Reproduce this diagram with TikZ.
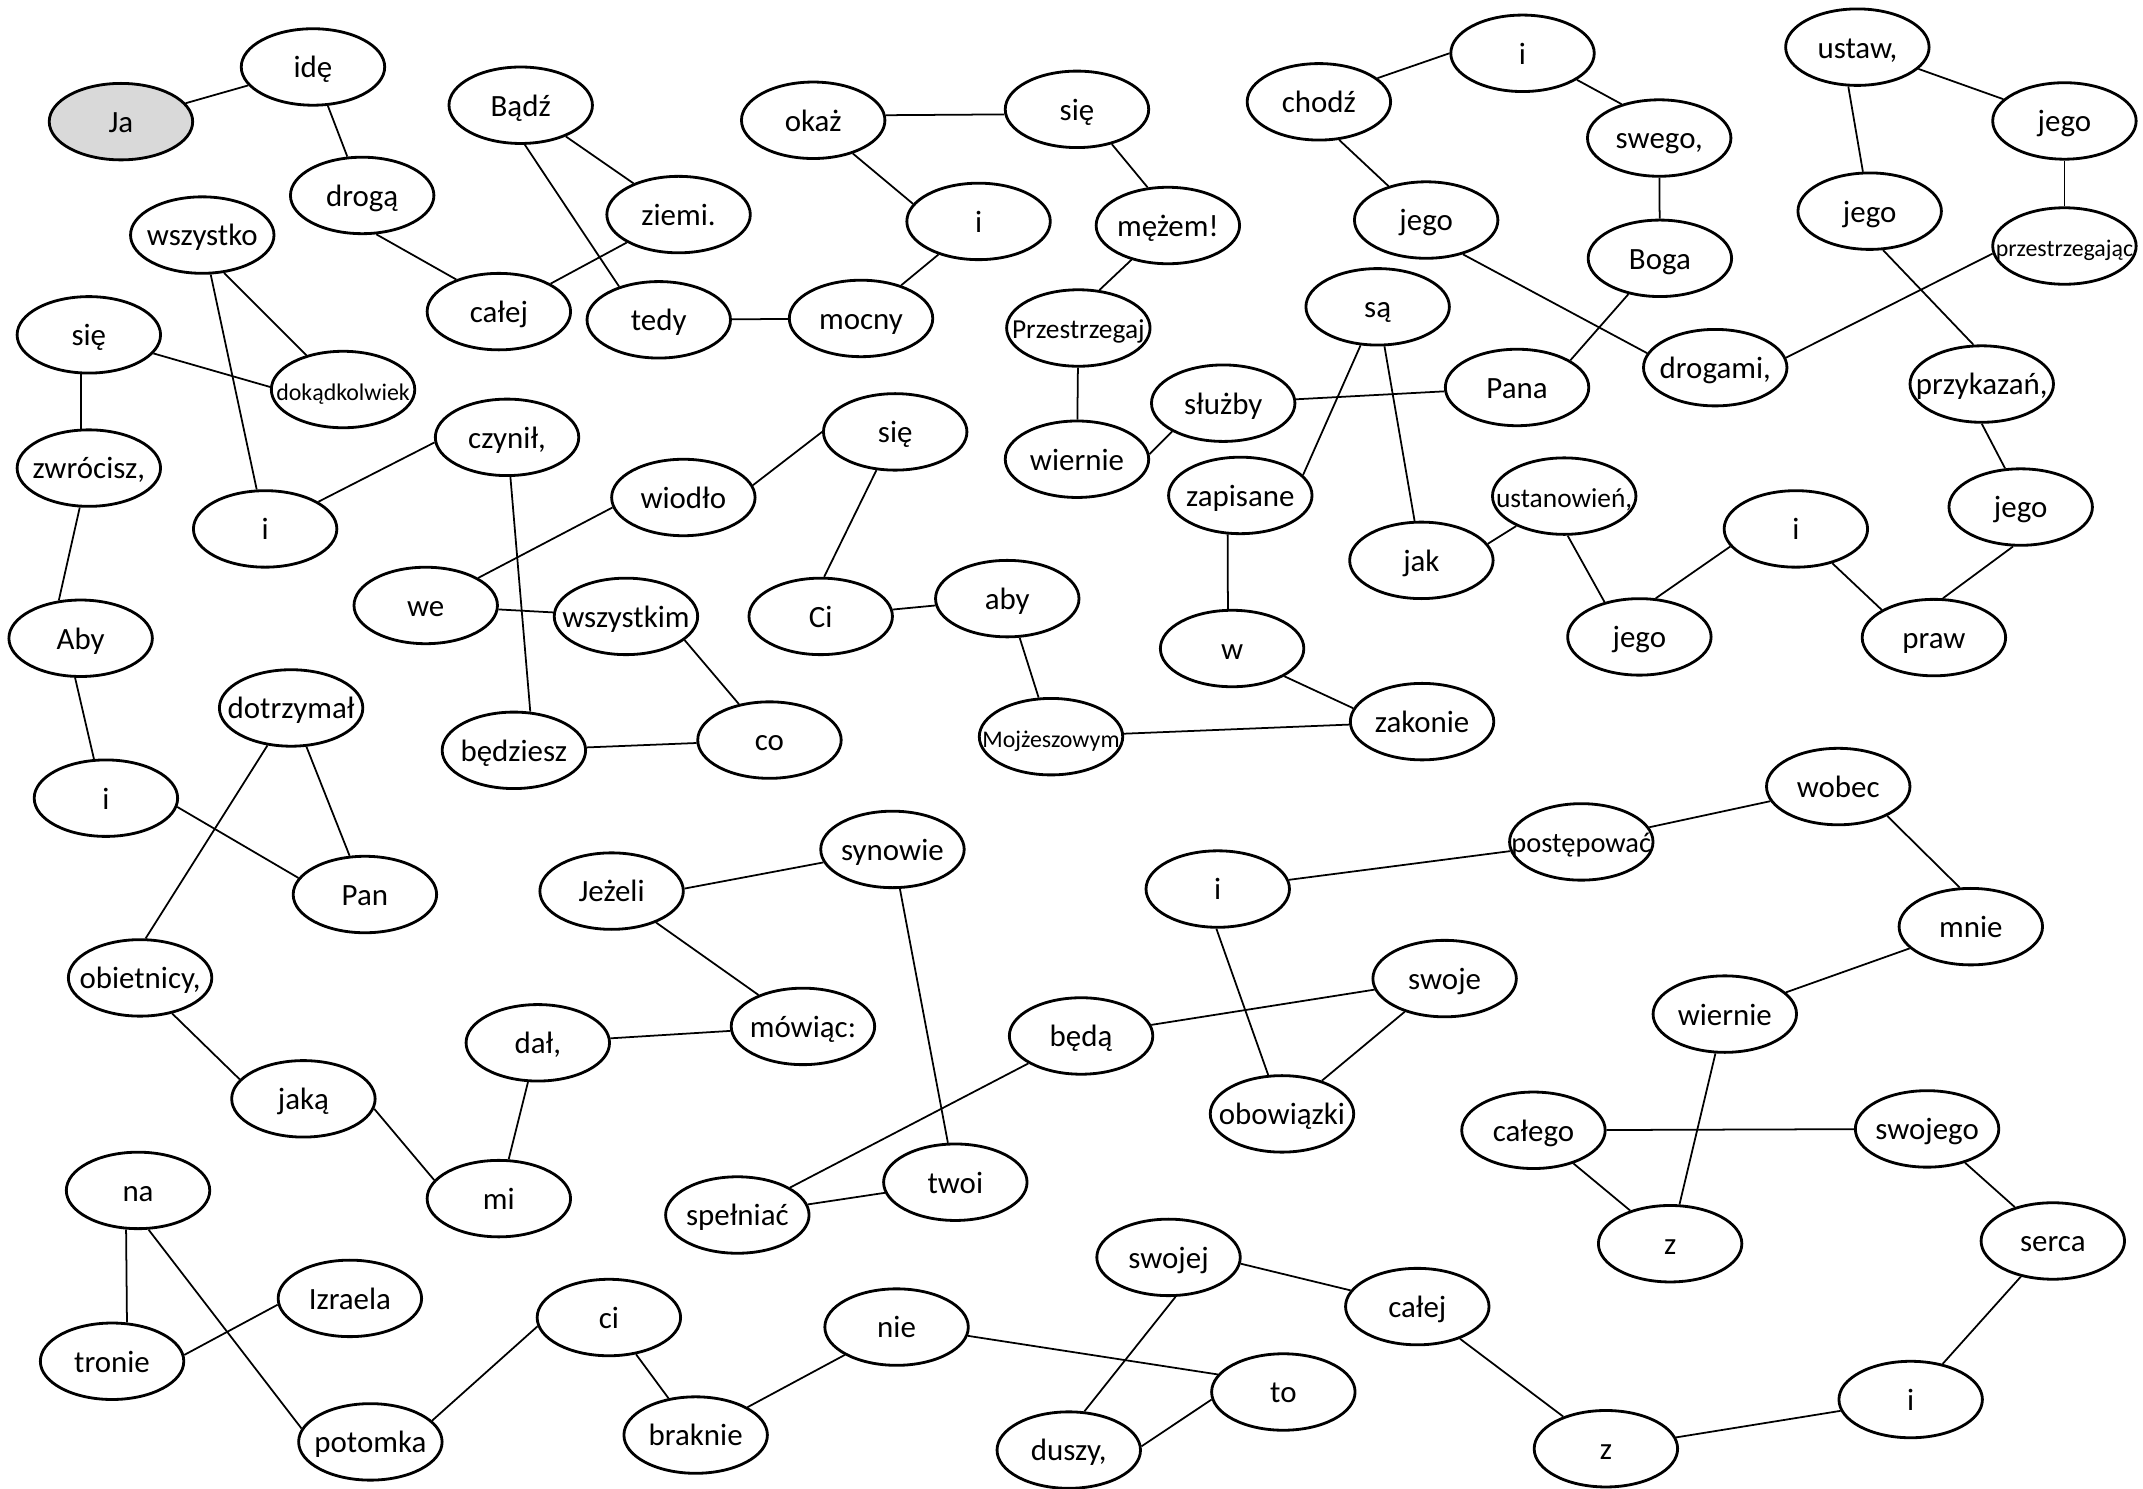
\documentclass[tikz,border=0pt]{standalone}
\usepackage{fontspec}
\setmainfont{Carlito}
\usetikzlibrary{shapes.geometric}

\newcommand{\wtxt}[1]{\makebox[0pt]{#1}}

\begin{document}
\begin{tikzpicture}[x=0.013667cm, y=-0.013667cm,
    word/.style={draw, ellipse, line width=0.8pt, minimum width=1.435cm, minimum height=0.765cm,
      inner sep=0pt, text height=7pt, text depth=0.8pt, font=\fontsize{8.8}{10}\selectfont},
    tight/.style={font=\fontsize{8.1}{9}\selectfont},
    small/.style={font=\fontsize{7.8}{9}\selectfont},
    tiny/.style={font=\fontsize{6.8}{8}\selectfont},
    link/.style={line width=0.5pt}]
  \useasboundingbox (0,0) rectangle (1568,1089);

  % Ja ide droga calej ziemi
  \node[word, fill=gray!30] (ja) at (88.5,89) {\wtxt{Ja}};
  \node[word] (ide) at (229,49) {\wtxt{idę}};
  \node[word] (droga) at (265,143) {\wtxt{drogą}};
  \node[word] (calej1) at (365,228) {\wtxt{całej}};
  \node[word] (ziemi) at (496.5,157) {\wtxt{ziemi.}};
  \draw[link] (ja) -- (ide);
  \draw[link] (ide) -- (droga);
  \draw[link] (droga.290) -- (calej1.143);
  \draw[link] (calej1) -- (ziemi);

  % Badz tedy mocny i okaz sie mezem
  \node[word] (badz) at (381,77) {\wtxt{Bądź}};
  \node[word] (tedy) at (482,234) {\wtxt{tedy}};
  \node[word] (mocny) at (630,233) {\wtxt{mocny}};
  \node[word] (i1) at (716,162) {\wtxt{i}};
  \node[word] (okaz) at (595,88) {\wtxt{okaż}};
  \node[word] (sie1) at (788,80) {\wtxt{się}};
  \node[word] (mezem) at (854.5,165) {\wtxt{mężem!}};
  \draw[link] (ziemi) -- (badz);
  \draw[link] (badz.276) -- (tedy.140);
  \draw[link] (tedy) -- (mocny);
  \draw[link] (mocny) -- (i1);
  \draw[link] (i1.165) -- (okaz.320);
  \draw[link] (okaz.4) -- (sie1.184);
  \draw[link] (sie1.315) -- (mezem.118);

  % Przestrzegaj wiernie sluzby Pana Boga swego
  \node[word, small] (przestrz) at (789,240) {\wtxt{Przestrzegaj}};
  \node[word] (wiernie1) at (788,336) {\wtxt{wiernie}};
  \node[word] (sluzby) at (895,295) {\wtxt{służby}};
  \node[word] (pana) at (1110,283.5) {\wtxt{Pana}};
  \node[word] (boga) at (1214.5,189) {\wtxt{Boga}};
  \node[word] (swego) at (1214,101) {\wtxt{swego,}};
  \draw[link] (mezem) -- (przestrz.61);
  \draw[link] (przestrz) -- (wiernie1);
  \draw[link] (wiernie1.4) -- (sluzby.209);
  \draw[link] (sluzby) -- (pana);
  \draw[link] (pana.27) -- (boga);
  \draw[link] (boga) -- (swego);

  % i chodz jego drogami, przestrzegajac ...
  \node[word] (i2) at (1114,39) {\wtxt{i}};
  \node[word] (chodz) at (965,74.5) {\wtxt{chodź}};
  \node[word] (jego1) at (1043.5,161) {\wtxt{jego}};
  \node[word] (drogami) at (1255,269) {\wtxt{drogami,}};
  \node[word, tiny] (przestrzeg) at (1510.5,180) {\wtxt{przestrzegając}};
  \node[word] (jego2) at (1510.5,88.5) {\wtxt{jego}};
  \node[word] (ustaw) at (1359,34.5) {\wtxt{ustaw,}};
  \node[word] (jego3) at (1368,154.5) {\wtxt{jego}};
  \node[word] (przykazan) at (1450,281) {\wtxt{przykazań,}};
  \node[word] (jego4) at (1478.5,371) {\wtxt{jego}};
  \node[word] (praw) at (1415,466.5) {\wtxt{praw}};
  \node[word] (i3) at (1314,387) {\wtxt{i}};
  \node[word] (jego5) at (1199.5,466) {\wtxt{jego}};
  \node[word, small] (ustanowien) at (1144.5,363) {\wtxt{ustanowień,}};
  \draw[link] (swego.138) -- (i2.334);
  \draw[link] (i2.180) -- (chodz.22);
  \draw[link] (chodz.298) -- (jego1.138);
  \draw[link] (jego1.317) -- (drogami.168);
  \draw[link] (drogami.8) -- (przestrzeg.186);
  \draw[link] (przestrzeg) -- (jego2);
  \draw[link] (jego2) -- (ustaw);
  \draw[link] (ustaw.257) -- (jego3);
  \draw[link] (jego3.289) -- (przykazan.102);
  \draw[link] (przykazan.270) -- (jego4.112);
  \draw[link] (jego4.259) -- (praw.77);
  \draw[link] (praw.152) -- (i3);
  \draw[link] (i3.195) -- (jego5.67);
  \draw[link] (jego5.135) -- (ustanowien.275);

  % jak sa zapisane w zakonie Mojzeszowym
  \node[word] (jak) at (1040,410) {\wtxt{jak}};
  \node[word] (sa) at (1008,224.5) {\wtxt{są}};
  \node[word] (zapisane) at (907.5,362.5) {\wtxt{zapisane}};
  \node[word] (w) at (901.5,474.5) {\wtxt{w}};
  \node[word] (zakonie) at (1040.5,528) {\wtxt{zakonie}};
  \node[word, tiny] (mojzesz) at (769,539) {\wtxt{Mojżeszowym}};
  \draw[link] (ustanowien) -- (jak.14);
  \draw[link] (jak) -- (sa);
  \draw[link] (sa) -- (zapisane.18);
  \draw[link] (zapisane.252) -- (w.96);
  \draw[link] (w.332) -- (zakonie.169);
  \draw[link] (zakonie) -- (mojzesz);

  % aby Ci sie wiodlo we wszystkim, co bedziesz czynil
  \node[word] (aby1) at (737,438) {\wtxt{aby}};
  \node[word] (ci1) at (600.5,451) {\wtxt{Ci}};
  \node[word] (sie2) at (655,316) {\wtxt{się}};
  \node[word] (wiodlo) at (500,364) {\wtxt{wiodło}};
  \node[word] (we) at (311.5,443) {\wtxt{we}};
  \node[word] (wszystkim) at (458,451) {\wtxt{wszystkim}};
  \node[word] (co) at (563,541.5) {\wtxt{co}};
  \node[word] (bedziesz) at (376,549) {\wtxt{będziesz}};
  \node[word] (czynil) at (371,320) {\wtxt{czynił,}};
  \draw[link] (mojzesz) -- (aby1);
  \draw[link] (aby1) -- (ci1);
  \draw[link] (ci1.85) -- (sie2);
  \draw[link] (sie2.180) -- (wiodlo.10);
  \draw[link] (wiodlo.188) -- (we);
  \draw[link] (we) -- (wszystkim);
  \draw[link] (wszystkim.338) -- (co);
  \draw[link] (co) -- (bedziesz);
  \draw[link] (bedziesz.67) -- (czynil);

  % i wszystko dokadkolwiek sie zwrocisz
  \node[word] (i4) at (194,387) {\wtxt{i}};
  \node[word] (wszystko) at (148,172) {\wtxt{wszystko}};
  \node[word, tiny] (dokad) at (251,285) {\wtxt{dokądkolwiek}};
  \node[word] (sie3) at (65,245) {\wtxt{się}};
  \node[word] (zwrocisz) at (65,342.5) {\wtxt{zwrócisz,}};
  \draw[link] (czynil.184) -- (i4);
  \draw[link] (i4) -- (wszystko);
  \draw[link] (wszystko.300) -- (dokad.137);
  \draw[link] (dokad.178) -- (sie3);
  \draw[link] (sie3.259) -- (zwrocisz.101);

  % Aby i Pan dotrzymal obietnicy, jaka mi dal
  \node[word] (aby2) at (59,467) {\wtxt{Aby}};
  \node[word] (i5) at (77.5,584) {\wtxt{i}};
  \node[word] (pan) at (267,654.5) {\wtxt{Pan}};
  \node[word] (dotrzymal) at (213,518) {\wtxt{dotrzymał}};
  \node[word] (obietnicy) at (102.5,715.5) {\wtxt{obietnicy,}};
  \node[word] (jaka) at (222,804) {\wtxt{jaką}};
  \node[word] (mi) at (365,877) {\wtxt{mi}};
  \node[word] (dal) at (393.5,763) {\wtxt{dał,}};
  \draw[link] (zwrocisz.257) -- (aby2.120);
  \draw[link] (aby2.262) -- (i5.107);
  \draw[link] (i5.353) -- (pan.166);
  \draw[link] (pan) -- (dotrzymal);
  \draw[link] (dotrzymal) -- (obietnicy.82);
  \draw[link] (obietnicy.312) -- (jaka.163);
  \draw[link] (jaka.352) -- (mi.164);
  \draw[link] (mi) -- (dal);

  % mowiac: Jezeli synowie twoi beda spelniac swoje obowiazki
  \node[word] (mowiac) at (587.5,751) {\wtxt{mówiąc:}};
  \node[word] (jezeli) at (447.5,652) {\wtxt{Jeżeli}};
  \node[word] (synowie) at (653,621.5) {\wtxt{synowie}};
  \node[word] (twoi) at (699,865) {\wtxt{twoi}};
  \node[word] (spelniac) at (539.5,889) {\wtxt{spełniać}};
  \node[word] (beda) at (791,758) {\wtxt{będą}};
  \node[word] (swoje) at (1057,716) {\wtxt{swoje}};
  \node[word] (obowiazki) at (938,815) {\wtxt{obowiązki}};
  \draw[link] (dal) -- (mowiac);
  \draw[link] (mowiac) -- (jezeli);
  \draw[link] (jezeli.2) -- (synowie);
  \draw[link] (synowie) -- (twoi);
  \draw[link] (twoi) -- (spelniac);
  \draw[link] (spelniac) -- (beda);
  \draw[link] (beda) -- (swoje);
  \draw[link] (swoje) -- (obowiazki);

  % i postepowac wobec mnie wiernie z calego swojego serca
  \node[word] (i6) at (891,650.5) {\wtxt{i}};
  \node[word, tight] (postepowac) at (1157,616) {\wtxt{postępować}};
  \node[word] (wobec) at (1345,575.5) {\wtxt{wobec}};
  \node[word] (mnie) at (1442,678) {\wtxt{mnie}};
  \node[word] (wiernie2) at (1262,742) {\wtxt{wiernie}};
  \node[word] (z1) at (1222,910) {\wtxt{z}};
  \node[word] (calego) at (1122,827) {\wtxt{całego}};
  \node[word] (swojego) at (1410,826) {\wtxt{swojego}};
  \node[word] (serca) at (1502,908) {\wtxt{serca}};
  \draw[link] (obowiazki) -- (i6.268);
  \draw[link] (i6) -- (postepowac);
  \draw[link] (postepowac) -- (wobec);
  \draw[link] (wobec.329) -- (mnie.106);
  \draw[link] (mnie) -- (wiernie2);
  \draw[link] (wiernie2) -- (z1);
  \draw[link] (z1) -- (calego);
  \draw[link] (calego) -- (swojego);
  \draw[link] (swojego) -- (serca);

  % i z calej swojej duszy, to nie braknie ci potomka na tronie Izraela
  \node[word] (i7) at (1398,1024) {\wtxt{i}};
  \node[word] (z2) at (1175,1060) {\wtxt{z}};
  \node[word] (calej2) at (1037,956) {\wtxt{całej}};
  \node[word] (swojej) at (855,920) {\wtxt{swojej}};
  \node[word] (duszy) at (782,1061) {\wtxt{duszy,}};
  \node[word] (to) at (939,1018.5) {\wtxt{to}};
  \node[word] (nie) at (656,971) {\wtxt{nie}};
  \node[word] (braknie) at (509,1050) {\wtxt{braknie}};
  \node[word] (ci2) at (445.5,964) {\wtxt{ci}};
  \node[word] (potomka) at (271,1055) {\wtxt{potomka}};
  \node[word] (na) at (101,871) {\wtxt{na}};
  \node[word] (tronie) at (82,996) {\wtxt{tronie}};
  \node[word] (izraela) at (256,950) {\wtxt{Izraela}};
  \draw[link] (serca) -- (i7);
  \draw[link] (i7) -- (z2);
  \draw[link] (z2) -- (calej2);
  \draw[link] (calej2) -- (swojej.355);
  \draw[link] (swojej.280) -- (duszy.68);
  \draw[link] (duszy.3) -- (to.186);
  \draw[link] (to.165) -- (nie.353);
  \draw[link] (nie) -- (braknie);
  \draw[link] (braknie) -- (ci2);
  \draw[link] (ci2.187) -- (potomka.19);
  \draw[link] (potomka.169) -- (na.285);
  \draw[link] (na.253) -- (tronie.69);
  \draw[link] (tronie.5) -- (izraela.185);
\end{tikzpicture}
\end{document}
